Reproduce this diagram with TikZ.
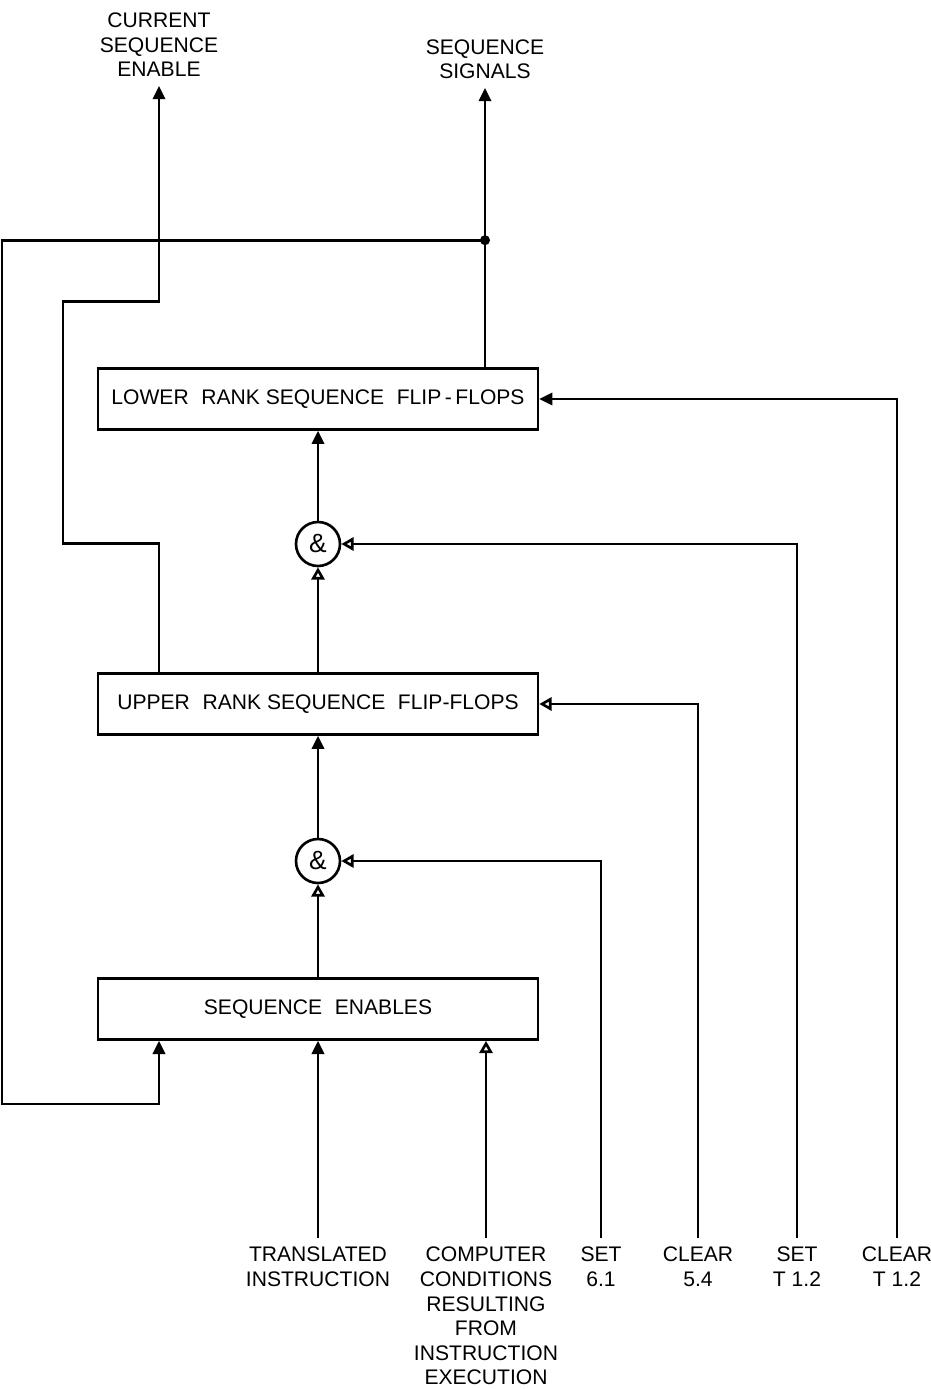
\documentclass[tikz,border=0pt]{standalone}
\usepackage{fontspec}
\setmainfont{Liberation Sans}
\usetikzlibrary{arrows.meta,calc,positioning}
\tikzset{
  ffbox/.style={
    rectangle, draw, line width=1.5pt, minimum width=8.8cm,
    minimum height=1.22cm, align=center, font=\fontsize{12}{14}\selectfont
  },
  andgate/.style={
    circle, draw, line width=1.5pt, minimum size=0.88cm, inner sep=0pt,
    font=\fontsize{15}{16}\selectfont
  },
  siglabel/.style={
    align=center, inner xsep=0pt, inner ysep=5pt,
    font=\fontsize{12}{14}\selectfont
  },
  sigline/.style={line width=1.5pt},
  fullarrow/.style={sigline, -{Triangle[length=7.5pt,width=7pt]}},
  openarrow/.style={sigline, -{Triangle[open,length=7pt,width=7.5pt,line width=1.5pt]}}
}
\newcommand{\wsp}{\hspace{0.6em}}

\begin{document}
\begin{tikzpicture}[x=0.02cm,y=-0.02cm]
  \useasboundingbox (0,0) rectangle (930,1389);

  % boxes and gates
  \node[ffbox] (lowerff) at (318,399)
    {LOWER\wsp RANK SEQUENCE\wsp FLIP\,-\,FLOPS};
  \node[ffbox] (upperff) at (318,704)
    {UPPER\wsp RANK SEQUENCE\wsp FLIP-FLOPS};
  \node[ffbox] (seqen) at (318,1009)
    {SEQUENCE\wsp ENABLES};
  \node[andgate] (andA) at (318,544) {\&};
  \node[andgate] (andB) at (318,861) {\&};

  % input labels
  \node[siglabel, anchor=north] (transl) at (318,1238) {TRANSLATED\\INSTRUCTION};
  \node[siglabel, anchor=north] (compc) at (486,1238)
    {COMPUTER\\CONDITIONS\\RESULTING\\FROM\\INSTRUCTION\\EXECUTION};
  \node[siglabel, anchor=north] (setA) at (601,1238) {SET\\6.1};
  \node[siglabel, anchor=north] (clrA) at (698,1238) {CLEAR\\5.4};
  \node[siglabel, anchor=north] (setT) at (797,1238) {SET\\T 1.2};
  \node[siglabel, anchor=north] (clrT) at (897,1238) {CLEAR\\T 1.2};

  % output labels
  \node[siglabel, anchor=south] (curen) at (159,86) {CURRENT\\SEQUENCE\\ENABLE};
  \node[siglabel, anchor=south] (seqsig) at (485,88) {SEQUENCE\\SIGNALS};
  \coordinate (fbdot) at ($(lowerff.north -| seqsig.south)+(0,-127)$);

  % main chain
  \draw[fullarrow] (transl.north) -- (seqen.south);
  \draw[openarrow] (compc.north) -- (seqen.south -| compc.north);
  \draw[openarrow] (seqen.north) -- (andB.south);
  \draw[fullarrow] (andB.north) -- (upperff.south);
  \draw[openarrow] (upperff.north) -- (andA.south);
  \draw[fullarrow] (andA.north) -- (lowerff.south);

  % side inputs
  \draw[openarrow] (setA.north) |- (andB.east);
  \draw[openarrow] (clrA.north) |- (upperff.east);
  \draw[openarrow] (setT.north) |- (andA.east);
  \draw[fullarrow] (clrT.north) |- (lowerff.east);

  % outputs and feedback
  \draw[fullarrow] (lowerff.north -| seqsig.south) -- (seqsig.south);
  \fill (fbdot) circle (5);
  \draw[fullarrow] (fbdot) -- ++(-483,0)
    |- ($(seqen.south -| curen.south)+(0,63)$) -- (seqen.south -| curen.south);
  \draw[fullarrow] (upperff.north -| curen.south) -- ++(0,-129) -- ++(-96,0)
    -- ++(0,-242) -- ++(96,0) -- (curen.south);
\end{tikzpicture}
\end{document}
